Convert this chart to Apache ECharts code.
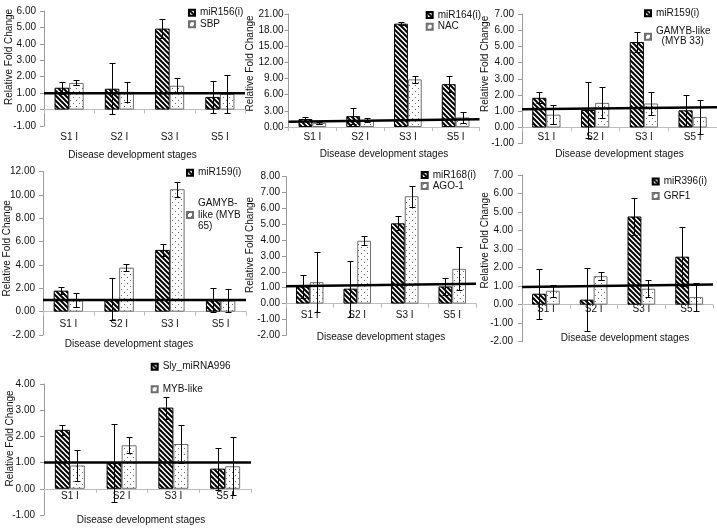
<!DOCTYPE html>
<html><head><meta charset="utf-8">
<script src="https://cdn.jsdelivr.net/npm/echarts@6/dist/echarts.min.js"></script>
<style>html,body{margin:0;padding:0;background:#fff}#c{width:717px;height:531px}</style>
</head><body><div id="c"></div>
<script>
// ---------- DATA ----------
const categories = ['S1 I', 'S2 I', 'S3 I', 'S5 I'];
const yTitle = 'Relative Fold Change';
const xTitle = 'Disease development stages';

const p1Names = ['miR156(i)', 'SBP'];
const p1Mir = [1.33, 1.27, 4.93, 0.77];
const p1MirErr = [0.36, 1.55, 0.56, 0.97];
const p1Tgt = [1.62, 1.08, 1.45, 0.95];
const p1TgtErr = [0.15, 0.62, 0.46, 1.15];
const p1Ref = [1.0, 1.0];
const p1Ticks = [-1, 6, 1];

const p2Names = ['miR164(i)', 'NAC'];
const p2Mir = [1.47, 2.02, 19.2, 7.96];
const p2MirErr = [0.3, 1.45, 0.3, 1.47];
const p2Tgt = [0.73, 1.3, 8.85, 1.78];
const p2TgtErr = [0.12, 0.38, 0.6, 0.95];
const p2Ref = [0.98, 1.45];
const p2Ticks = [0, 21, 3];

const p3Names = ['miR159(i)', 'GAMYB-like (MYB 33)'];
const p3Mir = [1.83, 1.08, 5.27, 1.06];
const p3MirErr = [0.33, 1.75, 0.6, 0.94];
const p3Tgt = [0.79, 1.52, 1.48, 0.65];
const p3TgtErr = [0.6, 0.95, 0.7, 1.05];
const p3Ref = [1.12, 1.25];
const p3Ticks = [-1, 7, 1];

const p4Names = ['miR159(i)', 'GAMYB-like (MYB 65)'];
const p4Mir = [1.8, 1.06, 5.29, 0.97];
const p4MirErr = [0.29, 1.8, 0.5, 1.03];
const p4Tgt = [0.97, 3.77, 10.49, 0.95];
const p4TgtErr = [0.6, 0.3, 0.65, 0.95];
const p4Ref = [1.0, 1.0];
const p4Ticks = [-2, 12, 2];

const p5Names = ['miR168(i)', 'AGO-1'];
const p5Mir = [1.08, 0.94, 5.06, 1.08];
const p5MirErr = [0.73, 1.77, 0.44, 0.52];
const p5Tgt = [1.35, 3.96, 6.77, 2.19];
const p5TgtErr = [1.9, 0.27, 0.67, 1.35];
const p5Ref = [1.1, 1.25];
const p5Ticks = [-2, 8, 1];

const p6Names = ['miR396(i)', 'GRF1'];
const p6Mir = [0.59, 0.27, 4.76, 2.59];
const p6MirErr = [1.34, 1.7, 0.98, 1.58];
const p6Tgt = [0.75, 1.54, 0.86, 0.41];
const p6TgtErr = [0.32, 0.21, 0.45, 0.77];
const p6Ref = [0.95, 1.09];
const p6Ticks = [-2, 7, 1];

const p7Names = ['Sly_miRNA996', 'MYB-like'];
const p7Mir = [2.25, 0.99, 3.1, 0.77];
const p7MirErr = [0.18, 1.5, 0.42, 0.8];
const p7Tgt = [0.89, 1.66, 1.71, 0.86];
const p7TgtErr = [0.6, 0.31, 0.72, 1.11];
const p7Ref = [1.0, 1.0];
const p7Ticks = [-1, 4, 1];

const legendText = {
  'GAMYB-like (MYB 33)': 'GAMYB-like\n  (MYB 33)',
  'GAMYB-like (MYB 65)': 'GAMYB-\nlike (MYB\n65)'
};

const panels = [
  {names: p1Names, a: p1Mir, ae: p1MirErr, b: p1Tgt, be: p1TgtErr, ref: p1Ref, ticks: p1Ticks},
  {names: p2Names, a: p2Mir, ae: p2MirErr, b: p2Tgt, be: p2TgtErr, ref: p2Ref, ticks: p2Ticks},
  {names: p3Names, a: p3Mir, ae: p3MirErr, b: p3Tgt, be: p3TgtErr, ref: p3Ref, ticks: p3Ticks},
  {names: p4Names, a: p4Mir, ae: p4MirErr, b: p4Tgt, be: p4TgtErr, ref: p4Ref, ticks: p4Ticks},
  {names: p5Names, a: p5Mir, ae: p5MirErr, b: p5Tgt, be: p5TgtErr, ref: p5Ref, ticks: p5Ticks},
  {names: p6Names, a: p6Mir, ae: p6MirErr, b: p6Tgt, be: p6TgtErr, ref: p6Ref, ticks: p6Ticks},
  {names: p7Names, a: p7Mir, ae: p7MirErr, b: p7Tgt, be: p7TgtErr, ref: p7Ref, ticks: p7Ticks}
];

// ---------- LAYOUT / STYLE ----------
const layout = [
  {g:[44,11,201,115],     xlm:22.7, xng:40.7, xnp:[0,24,0,0], ylm:8, yng:30,   ynp:[0,0,0,23], lg:[188,6.9,11.6,0]},
  {g:[288.5,14,191,113],  xlm:5,    xng:22,   xnp:[0,0,0,0],  ylm:5, yng:33.5, ynp:[0,0,0,14], lg:[425.7,9.15,11.7,0]},
  {g:[522,14,195,129.7],  xlm:5,    xng:22,   xnp:[0,0,0,0],  ylm:8, yng:32,   ynp:[0,0,0,30], lg:[644,8.3,10,8.4]},
  {g:[43,171.6,203,163.4],xlm:7.3,  xng:27.3, xnp:[0,31,0,0], ylm:8, yng:31,   ynp:[0,0,0,10], lg:[186,166.85,11.7,18.9]},
  {g:[286,176.7,190,158.6],xlm:7,   xng:28.4, xnp:[0,0,0,0],  ylm:6, yng:31,   ynp:[0,0,0,22], lg:[420.7,169.5,11,0]},
  {g:[522,175,191,166.7], xlm:0,    xng:29,   xnp:[0,0,0,15], ylm:9, yng:32,   ynp:[0,0,0,36], lg:[651.7,176,11,3.5]},
  {g:[44,384,207,131],    xlm:2.4,  xng:26.7, xnp:[0,13,0,0], ylm:9, yng:29,   ynp:[0,0,0,22], lg:[150.7,361.2,11,11.6]}
];
const FONT = 'Liberation Sans, Arial, sans-serif';
const TXT = '#111';
const BAR_GAP = 0.42;

function hatchCanvas() {
  const s = 5;
  const c = document.createElement('canvas'); c.width = s; c.height = s;
  const g = c.getContext('2d');
  g.fillStyle = '#fff'; g.fillRect(0, 0, s, s);
  g.strokeStyle = '#000'; g.lineWidth = 2.0; g.lineCap = 'square';
  g.beginPath();
  g.moveTo(-1, -1); g.lineTo(s + 1, s + 1);
  g.moveTo(-s - 1, -1); g.lineTo(1, s + 1);
  g.moveTo(s - 1, -1); g.lineTo(2 * s + 1, s + 1);
  g.stroke();
  return c;
}
function dotCanvas() {
  const c = document.createElement('canvas'); c.width = 6; c.height = 6;
  const g = c.getContext('2d');
  g.fillStyle = '#fff'; g.fillRect(0, 0, 6, 6);
  g.fillStyle = '#6a6a6a';
  g.fillRect(1, 1, 1, 1); g.fillRect(4, 4, 1, 1);
  return c;
}
const hatchFill = {image: hatchCanvas(), repeat: 'repeat'};
const dotFill = {image: dotCanvas(), repeat: 'repeat'};

function errRender(params, api) {
  const cat = api.value(0), v = api.value(1), e = api.value(2), side = api.value(3);
  const band = api.size([1, 0])[0];
  const bw = band * (1 - BAR_GAP) / 2;
  const cx = Math.round(api.coord([cat, v])[0] + (side === 0 ? -bw / 2 : bw / 2)) + 0.5;
  const yt = Math.round(api.coord([cat, v + e])[1]) + 0.5;
  const yb = Math.round(api.coord([cat, v - e])[1]) + 0.5;
  const cap = 3;
  const st = {stroke: '#000', lineWidth: 1};
  return {type: 'group', children: [
    {type: 'line', shape: {x1: cx, y1: yt, x2: cx, y2: yb}, style: st},
    {type: 'line', shape: {x1: cx - cap, y1: yt, x2: cx + cap, y2: yt}, style: st},
    {type: 'line', shape: {x1: cx - cap, y1: yb, x2: cx + cap, y2: yb}, style: st}
  ]};
}

const grid = [], xAxis = [], yAxis = [], series = [], legend = [];
const N = panels.length;
panels.forEach((p, i) => {
  const L = layout[i];
  const H = L.g[3];
  // place the category axis on the zero line (equivalent of onZero)
  const zeroOffset = -H * (0 - p.ticks[0]) / (p.ticks[1] - p.ticks[0]);
  grid.push({left: L.g[0], top: L.g[1], width: L.g[2], height: H, containLabel: false, outerBoundsMode: 'none'});
  xAxis.push({
    type: 'category', gridIndex: i, data: categories, position: 'bottom', offset: zeroOffset,
    axisLine: {onZero: false, lineStyle: {color: '#bdbdbd', width: 1}},
    axisTick: {show: true, length: 4, lineStyle: {color: '#bdbdbd'}},
    axisLabel: {color: TXT, fontSize: 10, fontFamily: FONT, margin: L.xlm, interval: 0, hideOverlap: false},
    name: xTitle, nameLocation: 'middle', nameGap: L.xng, nameMoveOverlap: false,
    nameTextStyle: {color: TXT, fontSize: 10, fontFamily: FONT, padding: L.xnp},
    splitLine: {show: false}
  });
  yAxis.push({
    type: 'value', gridIndex: i, min: p.ticks[0], max: p.ticks[1], interval: p.ticks[2],
    axisLine: {show: true, onZero: false, lineStyle: {color: '#9a9a9a', width: 1}},
    axisTick: {show: true, length: 4, lineStyle: {color: '#9a9a9a'}},
    axisLabel: {color: TXT, fontSize: 10, fontFamily: FONT, margin: L.ylm, formatter: v => v.toFixed(2)},
    splitLine: {show: false},
    name: yTitle, nameLocation: 'middle', nameGap: L.yng, nameRotate: 90, nameMoveOverlap: false,
    nameTextStyle: {color: TXT, fontSize: 10, fontFamily: FONT, padding: L.ynp}
  });
  series.push({
    type: 'bar', name: p.names[0], xAxisIndex: i, yAxisIndex: i, data: p.a,
    barGap: '0%', barCategoryGap: (BAR_GAP * 100) + '%', z: 2,
    itemStyle: {color: hatchFill, borderColor: '#000', borderWidth: 1}
  });
  series.push({
    type: 'bar', name: p.names[1], xAxisIndex: i, yAxisIndex: i, data: p.b,
    barGap: '0%', barCategoryGap: (BAR_GAP * 100) + '%', z: 2,
    itemStyle: {color: dotFill, borderColor: '#6f6f6f', borderWidth: 1}
  });
  const ed = [];
  categories.forEach((c, k) => {
    ed.push([c, p.a[k], p.ae[k], 0]);
    ed.push([c, p.b[k], p.be[k], 1]);
  });
  series.push({
    type: 'custom', xAxisIndex: i, yAxisIndex: i, data: ed, encode: {x: 0, y: 1},
    renderItem: errRender, z: 5, silent: true, clip: false
  });
  legend.push({
    orient: 'vertical', left: L.lg[0], top: L.lg[1], padding: 0, itemGap: L.lg[3],
    itemWidth: 6, itemHeight: 6, icon: 'rect', selectedMode: false,
    data: p.names, formatter: n => legendText[n] || n,
    textStyle: {color: TXT, fontSize: 10, fontFamily: FONT, lineHeight: L.lg[2]}
  });
});
// reference lines on hidden value axes spanning each plot
panels.forEach((p, i) => {
  xAxis.push({type: 'value', gridIndex: i, min: 0, max: 1, show: false, position: 'top'});
  series.push({
    type: 'line', xAxisIndex: N + i, yAxisIndex: i, data: [[0, p.ref[0]], [1, p.ref[1]]],
    symbol: 'none', silent: true, z: 4,
    lineStyle: {color: '#000', width: 2.5}
  });
});

const chart = echarts.init(document.getElementById('c'), null, {renderer: 'canvas'});
chart.setOption({
  animation: false, backgroundColor: '#fff',
  textStyle: {fontFamily: FONT},
  grid, xAxis, yAxis, series, legend
});
</script></body></html>
